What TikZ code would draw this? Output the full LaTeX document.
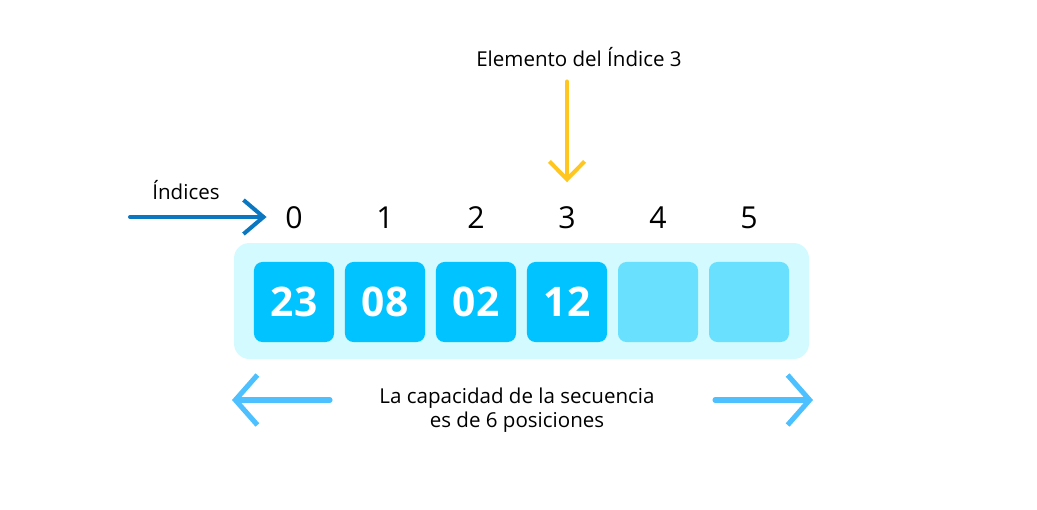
\documentclass[tikz,border=0pt]{standalone}
\usepackage{fontspec}
\setmainfont{Open Sans}
\usetikzlibrary{arrows.meta,calc}
\definecolor{fondo}{HTML}{D2FAFF}
\definecolor{lleno}{HTML}{00C3FF}
\definecolor{vacio}{HTML}{69E0FE}
\definecolor{azul}{HTML}{0B77C0}
\definecolor{amarillo}{HTML}{FFC61F}
\definecolor{celeste}{HTML}{4DC0FF}
\tikzset{
 caja/.style={fill=lleno,rounded corners=6pt,minimum size=2cm,inner sep=0pt,text=white,font=\fontsize{29}{29}\selectfont\bfseries},
 hueco/.style={caja,fill=vacio},
 indice/.style={font=\fontsize{21.5}{22}\selectfont},
 rotulo/.style={font=\fontsize{14.6}{17}\selectfont,align=center},
 flecha/.style={line width=2.85pt,line cap=round,line join=round},
}
\begin{document}
\begin{tikzpicture}[x=0.025cm,y=-0.025cm]
\useasboundingbox (0,0) rectangle (1037,509);
% Contenedor de la secuencia.
\fill[fondo,rounded corners=11pt] (234,243) rectangle (809,359);
% Casillas ocupadas y libres.
\node[caja] (c0) at (294,302){23};
\node[caja] (c1) at (385,302){08};
\node[caja] (c2) at (476,302){02};
\node[caja] (c3) at (567,302){12};
\node[hueco] (c4) at (658,302){};
\node[hueco] (c5) at (749,302){};
% Indices sobre cada casilla.
\foreach \i in {0,...,5}
 \node[indice] (i\i) at ($(c\i)+(0,-84)$) {\i};
\node[rotulo] (ind) at (186,190){Índices};
\coordinate (ia) at (130,217);
\draw[flecha,azul,shorten >=19.5pt,-{Straight Barb[length=0.5cm,width=0.85cm]}] (ia)--(ia-|i0.center);
% Elemento senalado.
\node[rotulo] (elem) at (579,57){Elemento del Índice 3};
\draw[flecha,amarillo,shorten <=7pt,shorten >=14pt,-{Straight Barb[length=0.45cm,width=0.88cm]}] (elem.south-|i3)--(i3.north);
% Capacidad total.
\node[rotulo] (cap) at (517,410){La capacidad de la secuencia\\es de 6 posiciones};
\coordinate (izq) at (232,400);
\coordinate (der) at (813,400);
\coordinate (izq0) at (330,400);
\coordinate (der0) at (715,400);
\draw[flecha,celeste,line width=3.6pt,-{Straight Barb[length=0.55cm,width=1.25cm]}] (izq0)--(izq);
\draw[flecha,celeste,line width=3.6pt,-{Straight Barb[length=0.55cm,width=1.25cm]}] (der0)--(der);
\end{tikzpicture}
\end{document}
